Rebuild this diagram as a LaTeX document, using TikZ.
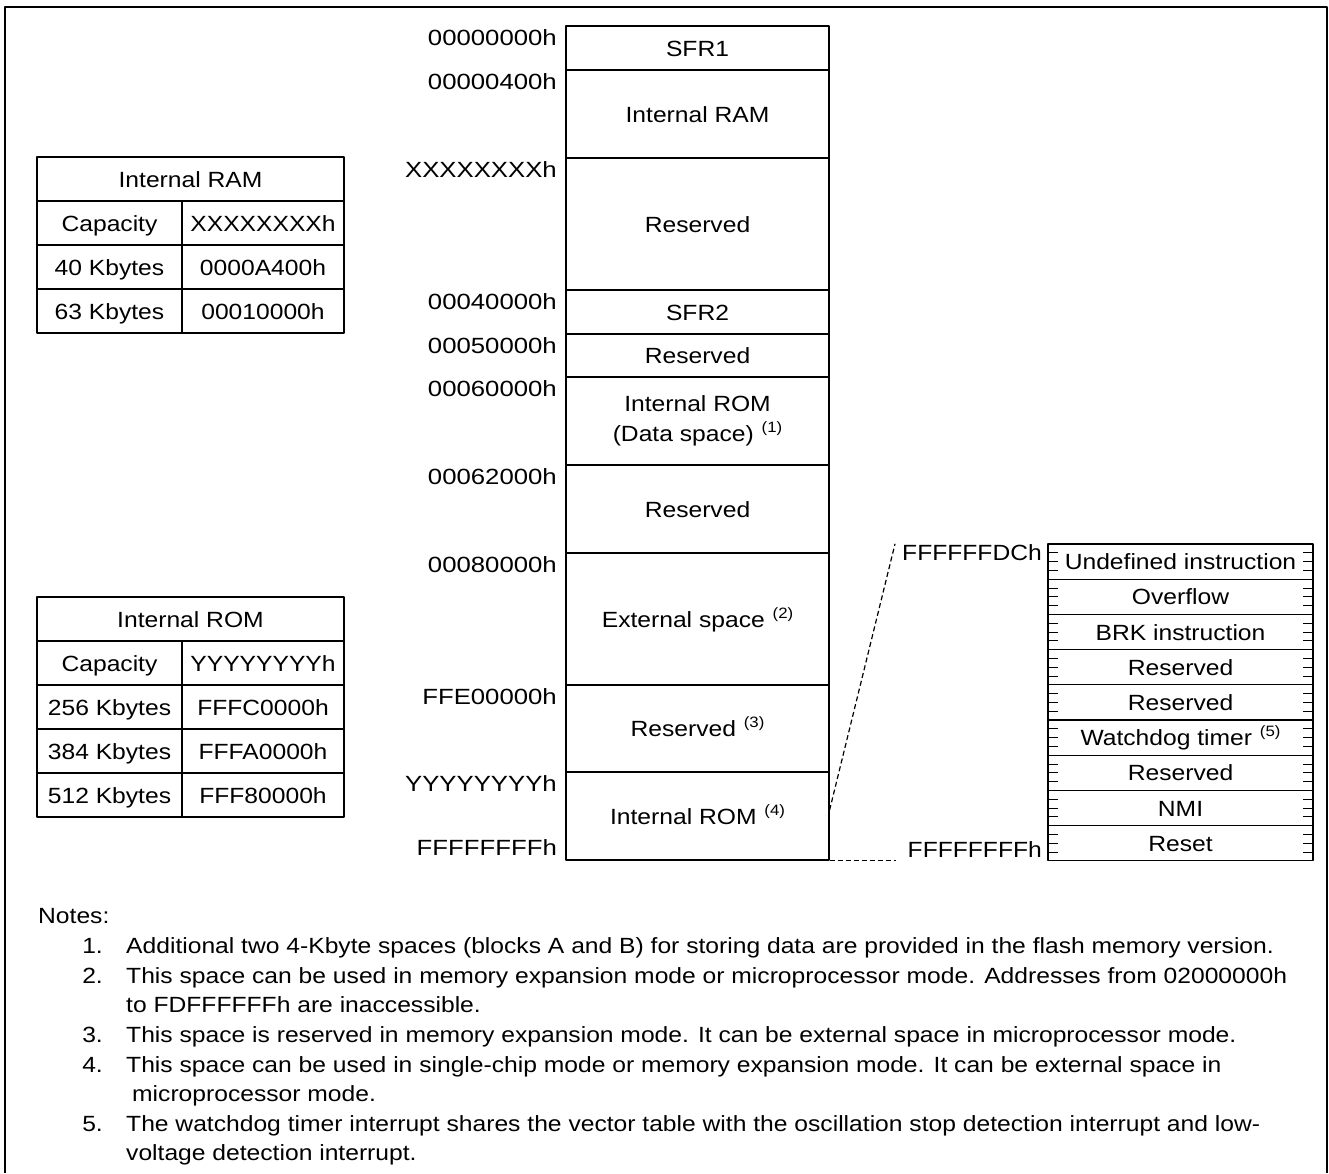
\documentclass[tikz,border=0pt]{standalone}
\usepackage{fontspec}
\setmainfont{Liberation Sans}[FakeStretch=1.12]
\newfontfamily\addrfont{Liberation Sans}[FakeStretch=1.17]
\newcommand\fnref[1]{\ \hspace{1pt}\raisebox{9pt}{\fontsize{15}{15}\selectfont(#1)}}
\begin{document}
\begin{tikzpicture}[x=1pt,y=-1pt,line join=round,
  font=\fontsize{22}{30}\selectfont,
  box/.style={draw,line width=1.2pt,inner sep=0pt,text height=16pt,text depth=0pt},
  addr/.style={anchor=base east,inner sep=0pt,font=\fontsize{22}{30}\addrfont},
  vecaddr/.style={anchor=base east,inner sep=0pt},
  notetext/.style={anchor=base west,inner sep=0pt},
  notenum/.style={anchor=base east,inner sep=0pt},
  zoomline/.style={line width=1.2pt,dash pattern=on 5pt off 3pt}]
  \useasboundingbox (0,0) rectangle (1329,1173);
  % outer frame, open at the bottom
  \draw[line width=2.5pt] (5,1173) -- (5,7) -- (1327,7) -- (1327,1173);

  % memory map
  \foreach \t/\b/\txt/\nm in {26/70/SFR1/sfr1, 70/158/Internal RAM/iram,
      158/290/Reserved/rsv1, 290/334/SFR2/sfr2, 334/377/Reserved/rsv2,
      465/553/Reserved/rsv3, 553/685/External space\fnref{2}/ext,
      685/772/Reserved\fnref{3}/rsv4, 772/860/Internal ROM\fnref{4}/irom}
    \node[box,minimum width=263pt,minimum height={(\b-\t)*1pt}] (\nm) at (697.5,{(\t+\b)/2}) {\txt};
  \node[box,align=center,text height={},text depth={},minimum width=263pt,minimum height=88pt]
    (drom) at (697.5,421) {Internal ROM\\(Data space)\fnref{1}};

  % addresses
  \foreach \y/\a [count=\i] in {45/00000000h, 89/00000400h, 177/XXXXXXXXh,
      309/00040000h, 353/00050000h, 396/00060000h, 484/00062000h,
      572/00080000h, 704/FFE00000h, 791/YYYYYYYYh, 855/FFFFFFFFh}
    \node[addr] (adr\i) at (557,\y) {\a};

  % vector table
  \foreach \txt [count=\i] in {Undefined instruction, Overflow, BRK instruction,
      Reserved, Reserved, Watchdog timer\fnref{5}, Reserved, NMI, Reset}
    \node[box,minimum width=265pt,minimum height=35.2pt] (vec\i) at (1180.5,{544+35.2*(\i-0.5)}) {\txt};
  \foreach \i in {0,...,8}
    \foreach \k in {1,2,3}
      \draw[line width=1pt] (1048,{544+35.2*\i+8.8*\k}) -- ++(10,0)
                            (1313,{544+35.2*\i+8.8*\k}) -- ++(-10,0);
  \node[vecaddr] (vtop) at (1042,560) {FFFFFFDCh};
  \node[vecaddr] (vbot) at (1042,857) {FFFFFFFFh};

  % zoom lines
  \coordinate (tap) at ([yshift=6pt]irom.east);
  \draw[zoomline] (tap) -- ([xshift=-7pt]vtop.north west);
  \draw[zoomline] (irom.south east) -- ++(66,0);

  % Internal RAM table
  \node[box,minimum width=307pt,minimum height=44pt] (ramhd) at (190.5,179) {Internal RAM};
  \foreach \y/\c/\a [count=\i] in {223/Capacity/XXXXXXXXh, 267/40 Kbytes/0000A400h,
      311/63 Kbytes/00010000h} {
    \node[box,minimum width=145pt,minimum height=44pt] (ramc\i) at (109.5,\y) {\c};
    \node[box,minimum width=162pt,minimum height=44pt] (rama\i) at (263,\y) {\a};
  }

  % Internal ROM table
  \node[box,minimum width=307pt,minimum height=44pt] (romhd) at (190.5,619) {Internal ROM};
  \foreach \y/\c/\a [count=\i] in {663/Capacity/YYYYYYYYh, 707/256 Kbytes/FFFC0000h,
      751/384 Kbytes/FFFA0000h, 795/512 Kbytes/FFF80000h} {
    \node[box,minimum width=145pt,minimum height=44pt] (romc\i) at (109.5,\y) {\c};
    \node[box,minimum width=162pt,minimum height=44pt] (roma\i) at (263,\y) {\a};
  }

  % notes
  \node[notetext] (notes) at (38,923) {Notes:};
  \node[notenum] (n1num) at (103,953) {1.};
  \node[notetext] (n1) at (126,953) {Additional two 4-Kbyte spaces (blocks A and B) for storing data are provided in the flash memory version.};
  \node[notenum] (n2num) at (103,983) {2.};
  \node[notetext] (n2) at (126,983) {This space can be used in memory expansion mode or microprocessor mode. Addresses from 02000000h};
  \node[notetext] (n2b) at (126,1012) {to FDFFFFFFh are inaccessible.};
  \node[notenum] (n3num) at (103,1042) {3.};
  \node[notetext] (n3) at (126,1042) {This space is reserved in memory expansion mode. It can be external space in microprocessor mode.};
  \node[notenum] (n4num) at (103,1072) {4.};
  \node[notetext] (n4) at (126,1072) {This space can be used in single-chip mode or memory expansion mode. It can be external space in};
  \node[notetext] (n4b) at (132,1101) {microprocessor mode.};
  \node[notenum] (n5num) at (103,1131) {5.};
  \node[notetext] (n5) at (126,1131) {The watchdog timer interrupt shares the vector table with the oscillation stop detection interrupt and low-};
  \node[notetext] (n5b) at (126,1160) {voltage detection interrupt.};
\end{tikzpicture}
\end{document}
